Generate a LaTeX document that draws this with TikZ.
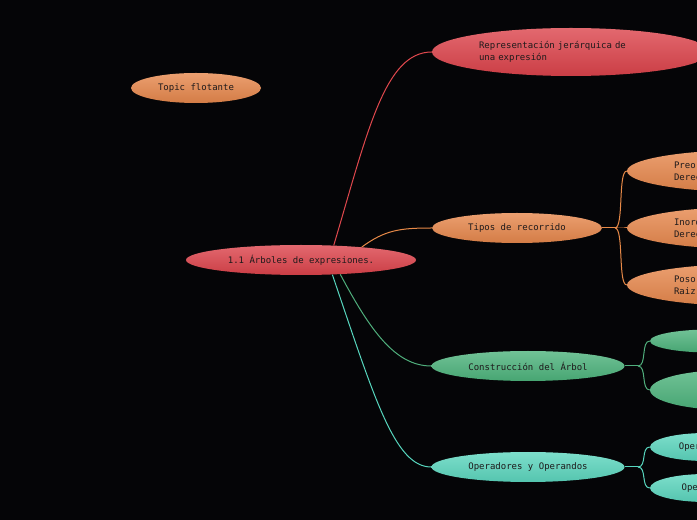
\documentclass[tikz,border=0pt]{standalone}
\usepackage{fontspec}
\setmonofont{DejaVu Sans Mono}
\usepackage{tikz}
\usetikzlibrary{shapes.geometric,backgrounds}
\definecolor{mmBg}{HTML}{050507}
\definecolor{mmInk}{HTML}{1E1A1B}
\definecolor{mmRed}{HTML}{DC434B}
\definecolor{mmOrange}{HTML}{E6874C}
\definecolor{mmGreen}{HTML}{4DB37C}
\definecolor{mmTeal}{HTML}{5CD6BE}
\definecolor{lnRed}{HTML}{E0484D}
\definecolor{lnOrange}{HTML}{E88A48}
\definecolor{lnGreen}{HTML}{4FAE7C}
\definecolor{lnTeal}{HTML}{57D6BE}

\begin{document}
\begin{tikzpicture}[x=1pt, y=1pt, font=\ttfamily\fontsize{9}{12}\selectfont,
  topic/.style={ellipse, inner sep=1pt, text=mmInk, top color=#1!80!white, middle color=#1, bottom color=#1!92!black},
  link/.style={line width=1pt, color=#1}
]
\useasboundingbox (0,0) rectangle (697,520);
\clip (0,0) rectangle (697,520);
% central topic and floating topic
\node[topic=mmRed, minimum width=230pt, minimum height=30pt] (arboles) at (301,260) {1.1 Árboles de expresiones.};
\node[topic=mmOrange, minimum width=130pt, minimum height=30pt] (flotante) at (196,432) {Topic flotante};
% main branches
\node[topic=mmRed, minimum width=278pt, minimum height=48pt, text width=184pt, align=left] (repr) at (571,468) {Representación jerárquica de\\una expresión};
\node[topic=mmOrange, minimum width=170pt, minimum height=30pt] (tipos) at (517,292) {Tipos de recorrido};
\node[topic=mmGreen, minimum width=193pt, minimum height=30pt] (construccion) at (528,154) {Construcción del Árbol};
\node[topic=mmTeal, minimum width=193pt, minimum height=30pt] (operadores) at (528,53) {Operadores y Operandos};
% subtopics (cut by the right edge)
\node[topic=mmOrange, minimum width=244pt, minimum height=42pt, text width=150pt, align=left] (preorden) at (749,349) {Preorden: Raiz, Izquierdo,\\Derecho};
\node[topic=mmOrange, minimum width=244pt, minimum height=42pt, text width=150pt, align=left] (inorden) at (749,292) {Inorden: Izquierdo, Raiz,\\Derecho};
\node[topic=mmOrange, minimum width=244pt, minimum height=42pt, text width=150pt, align=left] (posorden) at (749,235) {Posorden: Izquierdo,\\Raiz};
\node[topic=mmGreen, minimum width=120pt, minimum height=23pt] (constA) at (710,179) {};
\node[topic=mmGreen, minimum width=160pt, minimum height=40pt] (constB) at (730,130) {};
\node[topic=mmTeal, minimum width=112pt, minimum height=28pt] (opA) at (706,73) {Operadores};
\node[topic=mmTeal, minimum width=112pt, minimum height=28pt] (opB) at (706,32) {Operandos};
% junctions
\coordinate (tiposJ) at (615,292);
\coordinate (constJ) at (638,154);
\coordinate (operJ) at (638,53);
\begin{scope}[on background layer]
\fill[mmBg] (0,0) rectangle (697,520);
% connectors from the central topic
\draw[link=lnRed] (arboles.24) .. controls (368,390) and (385,468) .. (repr.west);
\draw[link=lnOrange] (arboles.12) .. controls (385,290) and (400,292) .. (tipos.west);
\draw[link=lnGreen] (arboles.-20) .. controls (370,190) and (395,154) .. (construccion.west);
\draw[link=lnTeal] (arboles.-25) .. controls (375,120) and (395,53) .. (operadores.west);
% connectors to subtopics
\draw[link=lnOrange] (tipos.east) -- (tiposJ);
\foreach \sub in {preorden,inorden,posorden}
  \draw[link=lnOrange] (tiposJ) .. controls +(9,0) and +(-9,0) .. (\sub.west);
\draw[link=lnGreen] (construccion.east) -- (constJ);
\foreach \sub in {constA,constB}
  \draw[link=lnGreen] (constJ) .. controls +(9,0) and +(-9,0) .. (\sub.west);
\draw[link=lnTeal] (operadores.east) -- (operJ);
\foreach \sub in {opA,opB}
  \draw[link=lnTeal] (operJ) .. controls +(9,0) and +(-9,0) .. (\sub.west);
\end{scope}
\end{tikzpicture}
\end{document}
